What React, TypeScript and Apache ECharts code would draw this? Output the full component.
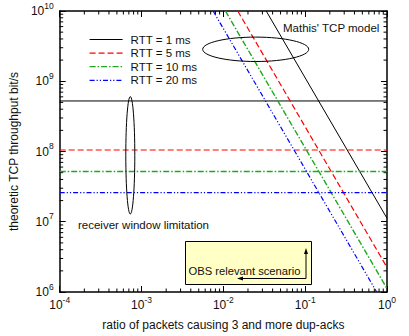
import React, { useEffect, useRef } from "react";
import * as echarts from "echarts";

// Axis extents
const X_MIN = 1e-4;
const X_MAX = 1;
const Y_MIN = 1e6;
const Y_MAX = 1e10;

// Series names (legend)
const rttNames = ["RTT = 1 ms", "RTT = 5 ms", "RTT = 10 ms", "RTT = 20 ms"];
const rttColors = ["#000000", "#ff0000", "#1ea81e", "#0000ff"];

// Receiver window limitation (bit/s), horizontal lines
const windowLimit = [5.24e8, 1.05e8, 5.2e7, 2.6e7];

// Mathis' TCP model lines: [ratio, throughput] endpoints
const mathis1 = [[0.0334, 1e10], [1, 1.12e7]];
const mathis5 = [[0.015, 1e10], [1, 2.24e6]];
const mathis10 = [[0.0106, 1e10], [1, 1.12e6]];
const mathis20 = [[0.0075, 1e10], [0.748, 1e6]];
const mathisLines = [mathis1, mathis5, mathis10, mathis20];

// Minor tick positions (axis decoration)
const minorMult = [2, 3, 4, 5, 6, 7, 8, 9];
const xDecades = [-4, -3, -2, -1];
const yDecades = [6, 7, 8, 9];

const dashes: any[] = ["solid", [6, 3], [6, 2, 1.5, 2], [5, 2, 1.2, 2, 1.2, 2]];
const widths = [1, 1.2, 1.4, 1.2];

const FONT = "Liberation Sans, Arial, Helvetica, sans-serif";
const FS = 11.5;

export default function App() {
  const ref = useRef<HTMLDivElement>(null);

  useEffect(() => {
    if (!ref.current) return;
    const chart = echarts.init(ref.current, undefined, { renderer: "svg" });

    const xMinor: number[][] = [];
    xDecades.forEach((d) => minorMult.forEach((m) => xMinor.push([m * Math.pow(10, d), Y_MIN])));
    const yMinor: number[][] = [];
    yDecades.forEach((d) => minorMult.forEach((m) => yMinor.push([X_MIN, m * Math.pow(10, d)])));

    const labelFmt = (v: number) => {
      const e = Math.round(Math.log10(v));
      return "{b|10}{s|" + e + "}";
    };
    const rich = {
      b: { fontSize: 12, lineHeight: 20, fontFamily: FONT, color: "#111" },
      s: { fontSize: 8.5, lineHeight: 8, verticalAlign: "top", fontFamily: FONT, color: "#111" },
    };

    const series: any[] = [];
    rttNames.forEach((name, i) => {
      const ls = { color: rttColors[i], width: widths[i], type: dashes[i] };
      series.push({
        type: "line",
        name,
        data: [[X_MIN, windowLimit[i]], [X_MAX, windowLimit[i]]],
        symbol: "none",
        lineStyle: ls,
        itemStyle: { color: rttColors[i] },
      });
      series.push({
        type: "line",
        name,
        data: mathisLines[i],
        symbol: "none",
        lineStyle: ls,
        itemStyle: { color: rttColors[i] },
      });
    });

    const tickStyle = { stroke: "#000", lineWidth: 1 };
    series.push({
      type: "custom",
      name: "xminor",
      data: xMinor,
      silent: true,
      renderItem: (params: any, api: any) => {
        const x = api.value(0);
        const b = api.coord([x, Y_MIN]);
        const t = api.coord([x, Y_MAX]);
        return {
          type: "group",
          children: [
            { type: "line", shape: { x1: b[0], y1: b[1], x2: b[0], y2: b[1] - 3.5 }, style: tickStyle },
            { type: "line", shape: { x1: t[0], y1: t[1], x2: t[0], y2: t[1] + 3.5 }, style: tickStyle },
          ],
        };
      },
    });
    series.push({
      type: "custom",
      name: "yminor",
      data: yMinor,
      silent: true,
      renderItem: (params: any, api: any) => {
        const y = api.value(1);
        const l = api.coord([X_MIN, y]);
        const r = api.coord([X_MAX, y]);
        return {
          type: "group",
          children: [
            { type: "line", shape: { x1: l[0], y1: l[1], x2: l[0] + 3.5, y2: l[1] }, style: tickStyle },
            { type: "line", shape: { x1: r[0], y1: r[1], x2: r[0] - 3.5, y2: r[1] }, style: tickStyle },
          ],
        };
      },
    });

    const axisLine = { show: true, lineStyle: { color: "#000", width: 1.5 } };
    const axisTick = { show: true, inside: true, length: 6, lineStyle: { color: "#000", width: 1 } };

    chart.setOption({
      animation: false,
      textStyle: { fontFamily: FONT },
      grid: { left: 59, right: 22, top: 11, bottom: 40 },
      legend: {
        data: rttNames,
        orient: "vertical",
        left: 84,
        top: 28.5,
        itemWidth: 33,
        itemHeight: 10,
        itemGap: 1.6,
        itemStyle: { opacity: 0 },
        lineStyle: { width: 1.2 },
        textStyle: { fontSize: FS, lineHeight: 12, color: "#111", fontFamily: FONT, padding: [0, 0, 0, 3] },
      },
      xAxis: [
        {
          type: "log",
          min: X_MIN,
          max: X_MAX,
          logBase: 10,
          name: "ratio of packets causing 3 and more dup-acks",
          nameLocation: "middle",
          nameGap: 27,
          nameTextStyle: { fontSize: 12, color: "#111", fontFamily: FONT },
          axisLine,
          axisTick,
          splitLine: { show: false },
          axisLabel: { formatter: labelFmt, rich, margin: 3 },
        },
        {
          type: "log",
          min: X_MIN,
          max: X_MAX,
          position: "top",
          axisLine,
          axisTick,
          splitLine: { show: false },
          axisLabel: { show: false },
        },
      ],
      yAxis: [
        {
          type: "log",
          min: Y_MIN,
          max: Y_MAX,
          logBase: 10,
          name: "theoretic TCP throughput bit/s",
          nameLocation: "middle",
          nameGap: 36,
          nameTextStyle: { fontSize: 12, color: "#111", fontFamily: FONT },
          axisLine,
          axisTick,
          splitLine: { show: false },
          axisLabel: { formatter: labelFmt, rich, margin: 6 },
        },
        {
          type: "log",
          min: Y_MIN,
          max: Y_MAX,
          position: "right",
          axisLine,
          axisTick,
          splitLine: { show: false },
          axisLabel: { show: false },
        },
      ],
      series,
      graphic: [
        {
          type: "ellipse",
          shape: { cx: 255.7, cy: 49.3, rx: 53, ry: 12.2 },
          style: { fill: "none", stroke: "#000", lineWidth: 1 },
          z: 10,
        },
        {
          type: "ellipse",
          shape: { cx: 130.3, cy: 155.3, rx: 4.5, ry: 58.7 },
          style: { fill: "none", stroke: "#000", lineWidth: 1 },
          z: 10,
        },
        {
          type: "text",
          x: 283,
          y: 27.7,
          style: { text: "Mathis' TCP model", fontSize: FS, fontFamily: FONT, fill: "#111", verticalAlign: "middle" },
          z: 10,
        },
        {
          type: "text",
          x: 78,
          y: 225,
          style: { text: "receiver window limitation", fontSize: FS, fontFamily: FONT, fill: "#111", verticalAlign: "middle" },
          z: 10,
        },
        {
          type: "rect",
          shape: { x: 185.5, y: 241.5, width: 126, height: 43 },
          style: { fill: "#ffffc6", stroke: "#000", lineWidth: 1 },
          z: 10,
        },
        {
          type: "text",
          x: 188.5,
          y: 270.5,
          style: { text: "OBS relevant scenario", fontSize: 11.2, fontFamily: FONT, fill: "#111", verticalAlign: "middle" },
          z: 11,
        },
        {
          type: "polyline",
          shape: { points: [[306, 252], [306, 278.5], [241, 278.5]] },
          style: { stroke: "#000", lineWidth: 1, fill: "none" },
          z: 11,
        },
        {
          type: "polygon",
          shape: { points: [[306, 248], [304, 254], [308, 254]] },
          style: { fill: "#000" },
          z: 11,
        },
        {
          type: "polygon",
          shape: { points: [[237, 278.5], [243, 276.5], [243, 280.5]] },
          style: { fill: "#000" },
          z: 11,
        },
      ],
    });

    return () => chart.dispose();
  }, []);

  return <div ref={ref} style={{ width: 409, height: 336, position: "absolute", left: 0, top: 0 }} />;
}
